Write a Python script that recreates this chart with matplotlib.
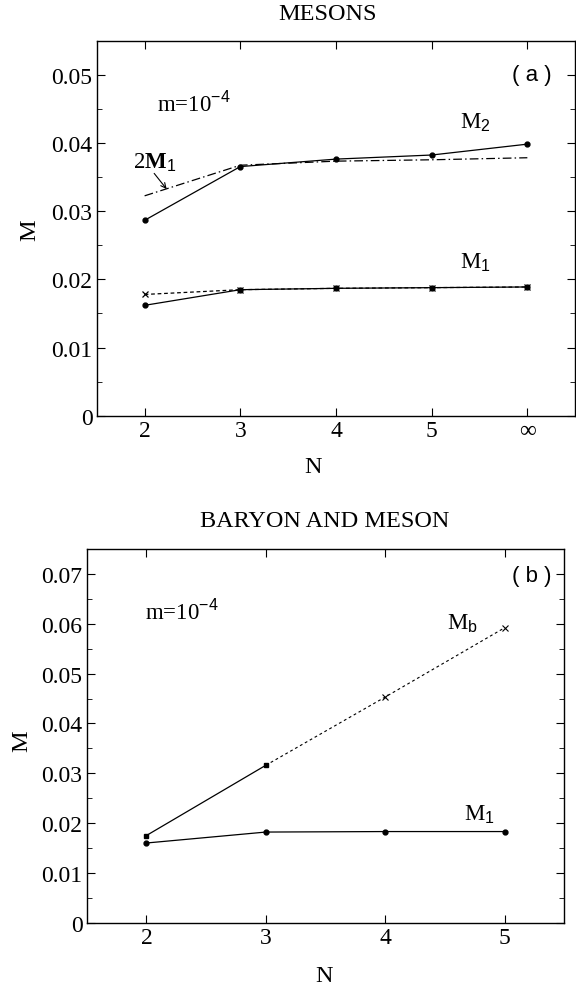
import matplotlib
matplotlib.use("Agg")
import matplotlib.pyplot as plt
import matplotlib.ticker as mticker

# ── Data ────────────────────────────────────────────────────────────────────
A_N = [2, 3, 4, 5, 6]                  # 6 stands for N = infinity
A_XTICKLABELS = ["2", "3", "4", "5", "\u221e"]
A_M2 = [0.0287, 0.0366, 0.0377, 0.0383, 0.0399]
A_2M1 = [0.0323, 0.0368, 0.0374, 0.0376, 0.0379]
A_M1 = [0.0162, 0.0185, 0.0187, 0.0188, 0.0189]
A_M1_CROSS = [0.0178, 0.0185, 0.0187, 0.0188, 0.0189]

B_N = [2, 3, 4, 5]
B_XTICKLABELS = ["2", "3", "4", "5"]
B_M1 = [0.0160, 0.0182, 0.0183, 0.0183]
B_MB = [0.0175, 0.0316, 0.0453, 0.0592]

plt.rcParams.update({
    "font.family": ["Liberation Serif", "DejaVu Serif"],
    "font.size": 17,
    "mathtext.fontset": "custom",
    "mathtext.rm": "Liberation Sans",
    "mathtext.bf": "Liberation Serif:bold",
    "xtick.direction": "in",
    "ytick.direction": "in",
    "xtick.top": True,
    "ytick.right": True,
    "xtick.major.size": 6,
    "ytick.major.size": 6,
    "ytick.minor.size": 3.5,
    "xtick.major.pad": 3,
    "ytick.major.pad": 3,
    "axes.linewidth": 1.0,
})

LW = 0.9
LABEL_FS = 16.5


def style_axes(ax, xticks, xlabels, ymax):
    ax.set_xlim(1.5, xticks[-1] + 0.5)
    ax.set_ylim(0, ymax)
    ax.set_xticks(xticks)
    ax.set_xticklabels(xlabels)
    ax.yaxis.set_major_locator(mticker.MultipleLocator(0.01))
    ax.yaxis.set_minor_locator(mticker.MultipleLocator(0.005))
    ax.yaxis.set_major_formatter(
        mticker.FuncFormatter(lambda v, p: "0" if abs(v) < 1e-9 else f"{v:.2f}"))
    ax.tick_params(labelsize=17)


fig = plt.figure(figsize=(5.76, 9.87), dpi=100)

# ── (a) MESONS ──────────────────────────────────────────────────────────────
ax = fig.add_axes([0.168, 0.578, 0.8306, 0.379])
ax.plot(A_N, A_M2, color="black", lw=LW, marker="o", ms=3.5)
ax.plot(A_N, A_2M1, color="black", lw=LW, dashes=(7, 2.5, 1.2, 2.5))
ax.plot(A_N, A_M1, color="black", lw=LW, marker="o", ms=3.5)
ax.plot(A_N, A_M1_CROSS, color="black", lw=LW, ls=(0, (3, 2.2)),
        marker="x", ms=5, mew=0.9)
style_axes(ax, A_N, A_XTICKLABELS, 0.055)

ax.text(2.13, 0.0459, "m=10$^{-4}$", fontsize=LABEL_FS, ha="left", va="center")
ax.text(5.46, 0.0432, "M$_2$", fontsize=LABEL_FS, ha="center", va="center")
ax.text(5.46, 0.0226, "M$_1$", fontsize=LABEL_FS, ha="center", va="center")
ax.text(2.11, 0.0373, "2$\\mathbf{M}_1$", fontsize=LABEL_FS, ha="center", va="center")
ax.annotate("", xy=(2.23, 0.0333), xytext=(2.10, 0.0356),
            arrowprops=dict(arrowstyle="->", lw=0.8, color="black",
                            shrinkA=0, shrinkB=0, mutation_scale=9))
ax.text(6.05, 0.0502, "( a )", fontsize=16, family="Liberation Sans",
        ha="center", va="center")

fig.text(0.568, 0.9858, "MESONS", fontsize=17.5, ha="center", va="center")
fig.text(0.544, 0.526, "N", fontsize=17.5, ha="center", va="center")
fig.text(0.051, 0.767, "M", fontsize=17.5, ha="center", va="center", rotation=90)

# ── (b) BARYON AND MESON ────────────────────────────────────────────────────
bx = fig.add_axes([0.1505, 0.0641, 0.8292, 0.3786])
bx.plot(B_N, B_M1, color="black", lw=LW, marker="o", ms=3.5)
bx.plot(B_N[:2], B_MB[:2], color="black", lw=LW, marker="s", ms=3.5)
bx.plot(B_N[1:], B_MB[1:], color="black", lw=LW * 0.9, ls=(0, (2.5, 2.5)))
bx.plot(B_N[2:], B_MB[2:], color="black", lw=0, marker="x", ms=4, mew=0.8)
style_axes(bx, B_N, B_XTICKLABELS, 0.075)

bx.text(1.99, 0.0626, "m=10$^{-4}$", fontsize=LABEL_FS, ha="left", va="center")
bx.text(4.65, 0.0603, "M$_\\mathrm{b}$", fontsize=LABEL_FS, ha="center", va="center")
bx.text(4.79, 0.0219, "M$_1$", fontsize=LABEL_FS, ha="center", va="center")
bx.text(5.23, 0.0697, "( b )", fontsize=16, family="Liberation Sans",
        ha="center", va="center")

fig.text(0.564, 0.4714, "BARYON AND MESON", fontsize=17.5, ha="center", va="center")
fig.text(0.5625, 0.0104, "N", fontsize=17.5, ha="center", va="center")
fig.text(0.038, 0.2495, "M", fontsize=17.5, ha="center", va="center", rotation=90)

fig.savefig("out.png", dpi=100)
